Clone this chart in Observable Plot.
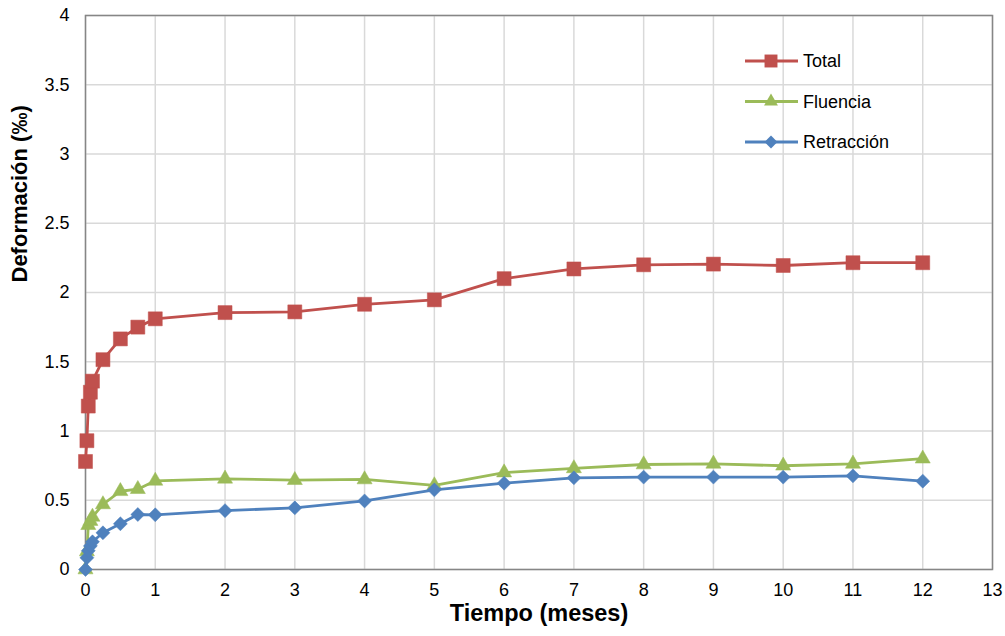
<!DOCTYPE html>
<html>
<head>
<meta charset="utf-8">
<script src="https://cdn.jsdelivr.net/npm/d3@7"></script>
<script src="https://cdn.jsdelivr.net/npm/@observablehq/plot@0.6"></script>
<style>
  body { margin: 0; background: #fff; }
  #wrap { position: relative; width: 1005px; height: 636px; font-family: "Liberation Sans", Arial, sans-serif; }
  #legend { position: absolute; left: 740px; top: 44px; }
</style>
</head>
<body>
<div id="wrap"></div>
<script>
const months = [0, 0.02, 0.04, 0.07, 0.1, 0.25, 0.5, 0.75, 1, 2, 3, 4, 5, 6, 7, 8, 9, 10, 11, 12];
const total = [0.78, 0.93, 1.18, 1.28, 1.36, 1.515, 1.665, 1.75, 1.81, 1.855, 1.86, 1.915, 1.947, 2.10, 2.17, 2.20, 2.205, 2.195, 2.215, 2.215];
const fluencia = [0, 0.13, 0.32, 0.35, 0.38, 0.47, 0.565, 0.58, 0.64, 0.655, 0.645, 0.65, 0.607, 0.70, 0.73, 0.758, 0.763, 0.749, 0.763, 0.80];
const retraccion = [0, 0.085, 0.135, 0.17, 0.2, 0.265, 0.33, 0.397, 0.395, 0.425, 0.445, 0.495, 0.575, 0.623, 0.662, 0.667, 0.667, 0.667, 0.676, 0.638];
const seriesNames = ["Total", "Fluencia", "Retracción"];
const seriesColors = ["#C0504D", "#9BBB59", "#4F81BD"];
const seriesSymbols = ["square", "triangle", "diamond2"];
const seriesR = [7.9, 5.6, 6.3];
const xTicks = [0, 1, 2, 3, 4, 5, 6, 7, 8, 9, 10, 11, 12, 13];
const yTicks = [0, 0.5, 1, 1.5, 2, 2.5, 3, 3.5, 4];
const xTitle = "Tiempo (meses)";
const yTitle = "Deformación (‰)";

const allValues = [total, fluencia, retraccion];
const data = [];
allValues.forEach((vals, s) => vals.forEach((v, i) => data.push({series: seriesNames[s], s, x: months[i], y: v})));

const marks = [
  Plot.gridX(xTicks, {stroke: "#d9d9d9", strokeOpacity: 1, strokeWidth: 1.5}),
  Plot.gridY(yTicks, {stroke: "#d9d9d9", strokeOpacity: 1, strokeWidth: 1.5}),
  Plot.frame({stroke: "#868686", strokeWidth: 1.5}),
  Plot.axisX({ticks: xTicks, tickSize: 0, tickPadding: 14, fill: "#000", fontSize: 18, label: null, tickFormat: d => String(d)}),
  Plot.axisY({ticks: yTicks, tickSize: 0, tickPadding: 16, fill: "#000", fontSize: 18, label: null, tickFormat: d => String(d)})
];
seriesNames.forEach((name, s) => {
  const d = data.filter(p => p.s === s);
  marks.push(Plot.line(d, {x: "x", y: "y", stroke: seriesColors[s], strokeWidth: 2.8}));
  marks.push(Plot.dot(d, {x: "x", y: "y", symbol: () => seriesSymbols[s], fill: seriesColors[s], stroke: seriesColors[s], strokeWidth: 0.5, r: seriesR[s]}));
});
marks.push(Plot.text([xTitle], {frameAnchor: "bottom", dy: 51, text: d => d, fontWeight: "bold", fontSize: 23.5, fill: "#000"}));
marks.push(Plot.text([yTitle], {frameAnchor: "left", dx: -66, dy: -10, rotate: -90, text: d => d, fontWeight: "bold", fontSize: 22, fill: "#000"}));

const chart = Plot.plot({
  width: 1005,
  height: 636,
  marginLeft: 85,
  marginRight: 13,
  marginTop: 15,
  marginBottom: 67,
  x: {domain: [0, 13]},
  y: {domain: [0, 4]},
  style: {fontFamily: "Liberation Sans, Arial, sans-serif", fontSize: "18px", color: "#000", background: "#fff"},
  marks
});
document.getElementById("wrap").appendChild(chart);

// legend
const lg = d3.select("#wrap").append("svg").attr("id", "legend").attr("width", 220).attr("height", 130);
seriesNames.forEach((name, s) => {
  const yy = 17 + s * 40.5;
  const g = lg.append("g");
  g.append("line").attr("x1", 5).attr("x2", 58).attr("y1", yy).attr("y2", yy).attr("stroke", seriesColors[s]).attr("stroke-width", 2.8);
  g.append("path").attr("transform", `translate(31,${yy})`)
    .attr("d", d3.symbol(s === 0 ? d3.symbolSquare : s === 1 ? d3.symbolTriangle : d3.symbolDiamond2, Math.PI * seriesR[s] * seriesR[s] * 0.85)())
    .attr("fill", seriesColors[s]);
  g.append("text").attr("x", 63).attr("y", yy).attr("dy", "0.35em").attr("font-size", 18).attr("font-family", "Liberation Sans, Arial, sans-serif").text(name);
});
</script>
</body>
</html>
